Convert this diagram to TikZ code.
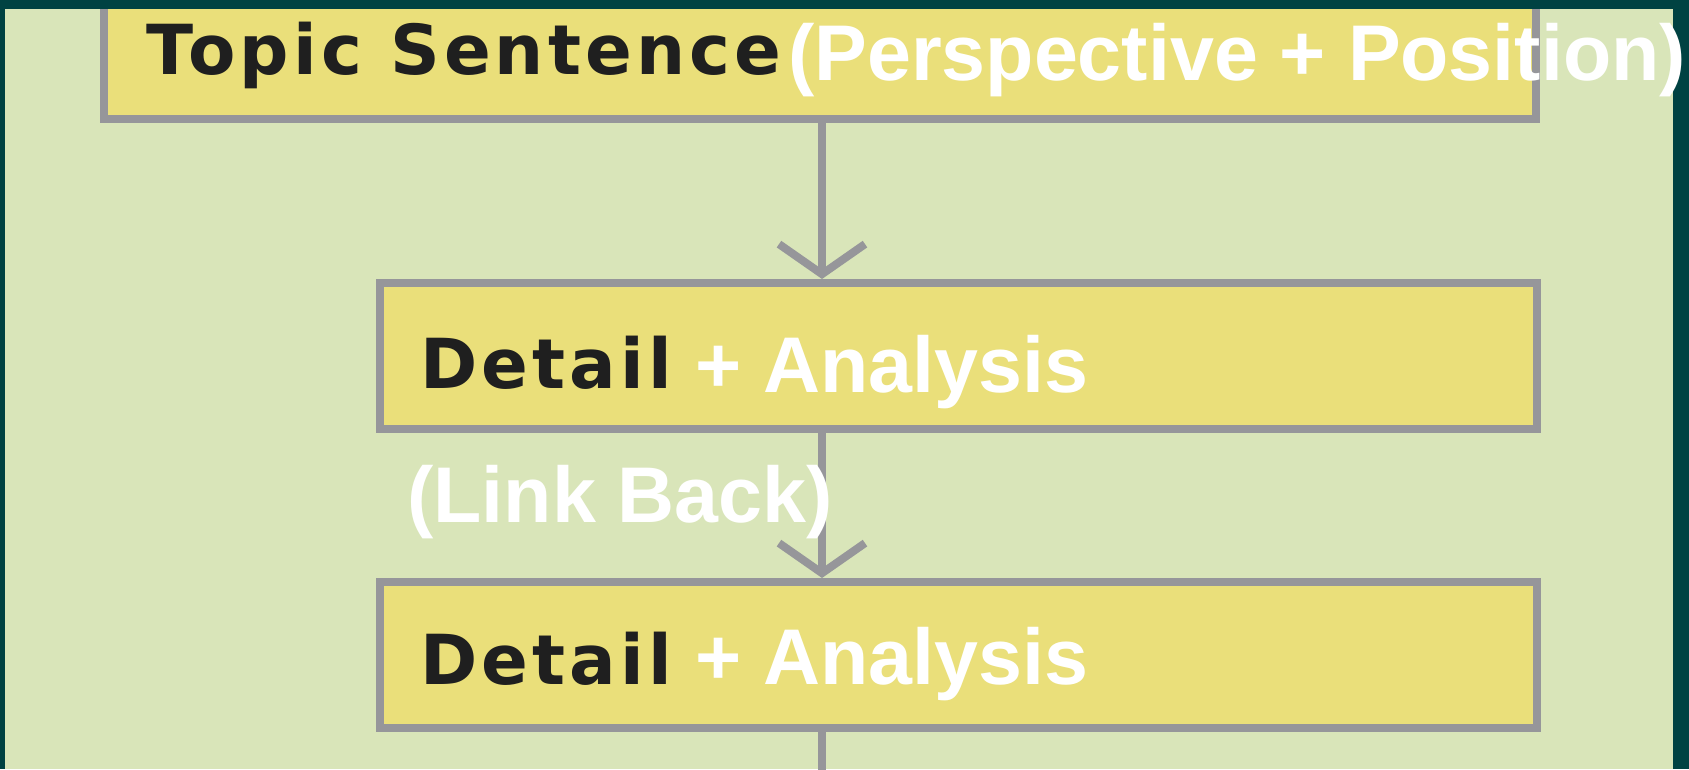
\documentclass[tikz,border=0pt]{standalone}
\usepackage{fontspec}
\usepackage{tikz}
\usetikzlibrary{arrows.meta,positioning,calc}
\newfontfamily\keyfont[LetterSpace=6]{DejaVu Sans}
\newfontfamily\notefont{Liberation Sans}
\definecolor{frame}{RGB}{0,66,66}
\definecolor{paper}{RGB}{217,229,185}
\definecolor{cardfill}{RGB}{234,223,122}
\definecolor{rule}{RGB}{150,150,154}
\tikzset{
  card/.style={draw=rule,line width=8pt,fill=cardfill,inner sep=0pt,minimum height=146pt},
  keyword/.style={anchor=base west,inner sep=0pt,text=black!88,font=\keyfont\bfseries\fontsize{69}{80}\selectfont},
  note/.style={anchor=base west,inner sep=0pt,text=white,font=\notefont\bfseries\fontsize{79}{90}\selectfont},
  link/.style={draw=rule,line width=8pt,-{Straight Barb[length=30pt,width=86pt]}},
}

\begin{document}
\begin{tikzpicture}[x=1pt,y=1pt]
  \useasboundingbox (0,0) rectangle (1689,769);
  \clip (0,0) rectangle (1689,769);
  \fill[paper] (0,0) rectangle (1689,769);
  % boxes
  \node[card,minimum width=1432pt] (topic) at (820,723) {};
  \foreach \n/\cy in {detailA/413, detailB/114}{
    \node[card,minimum width=1157pt] (\n) at (958.5,\cy) {};}
  % spine of connectors
  \coordinate (spine) at (822,0);
  \coordinate (tail) at (822,-10);
  \draw[link] (topic.south -| spine) -- (detailA.north -| spine);
  \draw[link] (detailA.south -| spine) -- (detailB.north -| spine);
  \draw[draw=rule,line width=8pt] (detailB.south -| spine) -- (tail);
  % dark frame
  \fill[frame] (0,760) rectangle (1689,769);
  \fill[frame] (0,0) rectangle (5,769);
  \fill[frame] (1673,0) rectangle (1689,769);
  % texts
  \node[keyword] (topic-key) at (146,694) {Topic Sentence};
  \node[note] (topic-note) at (788,688) {(Perspective + Position)};
  \foreach \n/\by/\wy in {detailA/380/376, detailB/85/85}{
    \node[keyword] (\n-key) at (420,\by) {Detail};
    \node[note] (\n-note) at (695,\wy) {+ Analysis};}
  \node[note] (linkback) at (407,246) {(Link Back)};
\end{tikzpicture}
\end{document}
